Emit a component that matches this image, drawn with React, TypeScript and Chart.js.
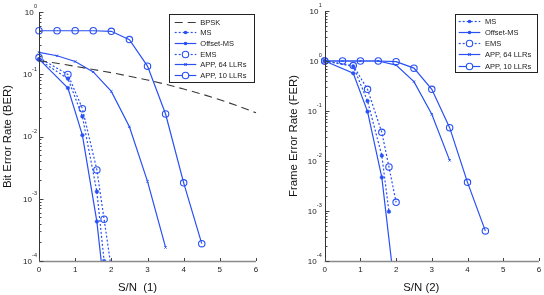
import React, { useEffect, useRef } from 'react';
import { Chart, registerables } from 'chart.js';

Chart.register(...registerables);

const BLUE = 'rgb(40,80,245)';
const FONT = '"Liberation Sans", Arial, Helvetica, sans-serif';

// ---------- Chart 1: BER ----------
const berBpskX = [0, 0.5, 1, 1.5, 2, 2.5, 3, 3.5, 4, 4.5, 5, 5.5, 6];
const berBpskY = [0.165, 0.15, 0.134, 0.119, 0.106, 0.093, 0.081, 0.069, 0.058, 0.048, 0.039, 0.031, 0.024];
const berMsX = [0, 0.8, 1.2, 1.6, 1.8];
const berMsY = [0.17, 0.085, 0.021, 0.0013, 0.0001];
const berOmsX = [0, 0.8, 1.2, 1.6, 1.8];
const berOmsY = [0.175, 0.06, 0.0105, 0.00043, 0.000038];
const berEmsX = [0, 0.8, 1.2, 1.6, 1.8, 2.0];
const berEmsY = [0.185, 0.099, 0.028, 0.0029, 0.00047, 0.000075];
const berApp64X = [0, 0.5, 1, 1.5, 2, 2.5, 3, 3.5];
const berApp64Y = [0.225, 0.198, 0.16, 0.109, 0.053, 0.0143, 0.0019, 0.000165];
const berApp10X = [0, 0.5, 1, 1.5, 2, 2.5, 3, 3.5, 4, 4.5];
const berApp10Y = [0.5, 0.5, 0.5, 0.5, 0.49, 0.36, 0.135, 0.023, 0.0018, 0.00019];

// ---------- Chart 2: FER ----------
const ferMsX = [0, 0.8, 1.2, 1.6, 1.8];
const ferMsY = [1, 0.78, 0.158, 0.0128, 0.00097];
const ferOmsX = [0, 0.8, 1.2, 1.6, 2.0];
const ferOmsY = [1, 0.567, 0.097, 0.0047, 0.000016];
const ferEmsX = [0, 0.8, 1.2, 1.6, 1.8, 2.0];
const ferEmsY = [1, 0.81, 0.271, 0.0374, 0.0076, 0.00149];
const ferApp64X = [0, 0.5, 1, 1.5, 2, 2.5, 3, 3.5];
const ferApp64Y = [1, 1, 1, 1, 0.83, 0.386, 0.0858, 0.0103];
const ferApp10X = [0, 0.5, 1, 1.5, 2, 2.5, 3, 3.5, 4, 4.5];
const ferApp10Y = [1, 1, 1, 1, 0.97, 0.72, 0.271, 0.0464, 0.00374, 0.0004];

// ticks / labels
const xTicks = [0, 1, 2, 3, 4, 5, 6];
const berExps = [0, -1, -2, -3, -4];
const ferExps = [1, 0, -1, -2, -3, -4];
const berLabels = ['BPSK', 'MS', 'Offset-MS', 'EMS', 'APP, 64 LLRs', 'APP, 10 LLRs'];
const ferLabels = ['MS', 'Offset-MS', 'EMS', 'APP, 64 LLRs', 'APP, 10 LLRs'];

type Kind = 'bpsk' | 'ms' | 'oms' | 'ems' | 'app64' | 'app10';

const pts = (xs: number[], ys: number[]) => xs.map((x, i) => ({ x, y: ys[i] }));

function style(kind: Kind) {
  const base: any = { borderWidth: 1.2, tension: 0, clip: { left: 5, right: 5, top: 5, bottom: 1 } };
  switch (kind) {
    case 'bpsk':
      return { ...base, borderWidth: 1.1, borderColor: '#3a3a3a', borderDash: [8, 5], pointRadius: 0 };
    case 'ms':
      return { ...base, borderColor: BLUE, borderDash: [2, 2], pointStyle: 'circle', pointRadius: 1.8, pointBackgroundColor: BLUE, pointBorderColor: BLUE, pointBorderWidth: 0.5 };
    case 'oms':
      return { ...base, borderColor: BLUE, pointStyle: 'circle', pointRadius: 1.8, pointBackgroundColor: BLUE, pointBorderColor: BLUE, pointBorderWidth: 0.5 };
    case 'ems':
      return { ...base, borderColor: BLUE, borderDash: [2, 2], pointStyle: 'circle', pointRadius: 3.2, pointBackgroundColor: 'rgba(255,255,255,0)', pointBorderColor: BLUE, pointBorderWidth: 1.1 };
    case 'app64':
      return { ...base, borderColor: BLUE, pointStyle: 'crossRot', pointRadius: 1.6, pointBorderColor: BLUE, pointBorderWidth: 1 };
    case 'app10':
      return { ...base, borderColor: BLUE, pointStyle: 'circle', pointRadius: 3.2, pointBackgroundColor: 'rgba(255,255,255,0)', pointBorderColor: BLUE, pointBorderWidth: 1.1 };
  }
}

type Cfg = {
  yMax: number;
  exps: number[];
  padding: { left: number; right: number; top: number; bottom: number };
  labelGap: number;
  yTitle: string;
  xTitle: string;
  yTitleX: number;
  xTitleShift: number;
  legend: { x: number; y: number; w: number; h: number; l0: number; l1: number; tx: number; r0: number; dr: number };
  series: { kind: Kind; label: string; xs: number[]; ys: number[] }[];
};

function drawMarker(ctx: CanvasRenderingContext2D, kind: Kind, x: number, y: number) {
  ctx.save();
  ctx.setLineDash([]);
  ctx.strokeStyle = BLUE;
  ctx.fillStyle = BLUE;
  ctx.lineWidth = 1.1;
  if (kind === 'ms' || kind === 'oms') {
    ctx.beginPath(); ctx.arc(x, y, 1.8, 0, Math.PI * 2); ctx.fill();
  } else if (kind === 'ems' || kind === 'app10') {
    ctx.fillStyle = '#fff';
    ctx.beginPath(); ctx.arc(x, y, 3.2, 0, Math.PI * 2); ctx.fill(); ctx.stroke();
  } else if (kind === 'app64') {
    const r = 1.2;
    ctx.beginPath(); ctx.moveTo(x - r, y - r); ctx.lineTo(x + r, y + r); ctx.moveTo(x + r, y - r); ctx.lineTo(x - r, y + r); ctx.stroke();
  }
  ctx.restore();
}

function makeDecor(cfg: Cfg) {
  return {
    id: 'decor',
    afterDraw(chart: any) {
      const ctx: CanvasRenderingContext2D = chart.ctx;
      const xs = chart.scales.x;
      const ys = chart.scales.y;
      const a = chart.chartArea;
      ctx.save();
      // bottom axis
      ctx.strokeStyle = '#8a8a8a';
      ctx.lineWidth = 1.5;
      ctx.beginPath(); ctx.moveTo(a.left, a.bottom + 0.6); ctx.lineTo(a.right, a.bottom + 0.6); ctx.stroke();
      // left axis
      ctx.strokeStyle = '#333';
      ctx.lineWidth = 1;
      const ax = Math.round(a.left) + 0.5;
      ctx.beginPath(); ctx.moveTo(ax, a.top); ctx.lineTo(ax, a.bottom); ctx.stroke();
      // y ticks
      const minE = Math.min(...cfg.exps), maxE = Math.max(...cfg.exps);
      ctx.strokeStyle = '#444';
      for (let e = minE; e <= maxE; e++) {
        for (let m = 1; m <= 9; m++) {
          if (e === maxE && m > 1) break;
          const v = m * Math.pow(10, e);
          const y = Math.round(ys.getPixelForValue(v)) + 0.5;
          const len = m === 1 ? 4 : 2;
          ctx.beginPath(); ctx.moveTo(ax, y); ctx.lineTo(ax + len, y); ctx.stroke();
        }
      }
      // x ticks
      for (const t of xTicks) {
        const x = Math.round(xs.getPixelForValue(t)) + 0.5;
        ctx.beginPath(); ctx.moveTo(x, a.bottom); ctx.lineTo(x, a.bottom - 3); ctx.stroke();
      }
      // x labels
      ctx.fillStyle = '#222';
      ctx.font = `8px ${FONT}`;
      ctx.textAlign = 'center';
      ctx.textBaseline = 'alphabetic';
      for (const t of xTicks) {
        ctx.fillText(String(t), xs.getPixelForValue(t), a.bottom + 10.8);
      }
      // y labels 10^e
      for (const e of cfg.exps) {
        const y = ys.getPixelForValue(Math.pow(10, e));
        const right = a.left - cfg.labelGap;
        ctx.font = `5.5px ${FONT}`;
        ctx.textAlign = 'right';
        const sup = String(e);
        const sw = ctx.measureText(sup).width;
        ctx.fillText(sup, right, y - 3.6);
        ctx.font = `8px ${FONT}`;
        ctx.fillText('10', right - sw - 0.2, y + 2.9);
      }
      // axis titles
      ctx.font = `11.4px ${FONT}`;
      ctx.fillStyle = '#111';
      ctx.textAlign = 'center';
      ctx.fillText(cfg.xTitle, (a.left + a.right) / 2 + cfg.xTitleShift, 291);
      ctx.save();
      ctx.translate(cfg.yTitleX, (a.top + a.bottom) / 2);
      ctx.rotate(-Math.PI / 2);
      ctx.fillText(cfg.yTitle, 0, 0);
      ctx.restore();
      // legend
      const L = cfg.legend;
      ctx.fillStyle = '#fff';
      ctx.fillRect(L.x, L.y, L.w, L.h);
      ctx.strokeStyle = '#222';
      ctx.lineWidth = 1;
      ctx.strokeRect(Math.round(L.x) + 0.5, Math.round(L.y) + 0.5, Math.round(L.w), Math.round(L.h));
      cfg.series.forEach((s, i) => {
        const y = Math.round(L.r0 + i * L.dr) + 0.5;
        const st: any = style(s.kind);
        ctx.save();
        ctx.strokeStyle = st.borderColor;
        ctx.lineWidth = st.borderWidth;
        ctx.setLineDash(st.borderDash || []);
        ctx.beginPath(); ctx.moveTo(L.l0, y); ctx.lineTo(L.l1, y); ctx.stroke();
        ctx.restore();
        drawMarker(ctx, s.kind, (L.l0 + L.l1) / 2, y);
        ctx.fillStyle = '#222';
        ctx.font = `7.5px ${FONT}`;
        ctx.textAlign = 'left';
        ctx.textBaseline = 'middle';
        ctx.fillText(s.label, L.tx, y + 0.3);
      });
      ctx.restore();
    },
  };
}

const berCfg: Cfg = {
  yMax: 1,
  exps: berExps,
  padding: { left: 39, right: 16, top: 12, bottom: 34 },
  labelGap: 2,
  yTitle: 'Bit Error Rate (BER)',
  xTitle: 'S/N  (1)',
  yTitleX: 10.5,
  xTitleShift: -10,
  legend: { x: 169, y: 14, w: 85, h: 68, l0: 174.7, l1: 196.3, tx: 200.3, r0: 21.8, dr: 10.66 },
  series: [
    { kind: 'bpsk', label: berLabels[0], xs: berBpskX, ys: berBpskY },
    { kind: 'ms', label: berLabels[1], xs: berMsX, ys: berMsY },
    { kind: 'oms', label: berLabels[2], xs: berOmsX, ys: berOmsY },
    { kind: 'ems', label: berLabels[3], xs: berEmsX, ys: berEmsY },
    { kind: 'app64', label: berLabels[4], xs: berApp64X, ys: berApp64Y },
    { kind: 'app10', label: berLabels[5], xs: berApp10X, ys: berApp10Y },
  ],
};

const ferCfg: Cfg = {
  yMax: 10,
  exps: ferExps,
  padding: { left: 52.7, right: 3.7, top: 11, bottom: 34 },
  labelGap: 3,
  yTitle: 'Frame Error Rate (FER)',
  xTitle: 'S/N (2)',
  yTitleX: 25,
  xTitleShift: -10.5,
  legend: { x: 183, y: 14, w: 82, h: 58, l0: 186.7, l1: 208.3, tx: 213, r0: 20.7, dr: 11.2 },
  series: [
    { kind: 'ms', label: ferLabels[0], xs: ferMsX, ys: ferMsY },
    { kind: 'oms', label: ferLabels[1], xs: ferOmsX, ys: ferOmsY },
    { kind: 'ems', label: ferLabels[2], xs: ferEmsX, ys: ferEmsY },
    { kind: 'app64', label: ferLabels[3], xs: ferApp64X, ys: ferApp64Y },
    { kind: 'app10', label: ferLabels[4], xs: ferApp10X, ys: ferApp10Y },
  ],
};

function ErrChart({ cfg }: { cfg: Cfg }) {
  const ref = useRef<HTMLCanvasElement | null>(null);
  useEffect(() => {
    if (!ref.current) return;
    const chart = new Chart(ref.current, {
      type: 'line',
      data: {
        datasets: cfg.series.map((s) => ({ label: s.label, data: pts(s.xs, s.ys), ...(style(s.kind) as any) })),
      },
      options: {
        animation: false,
        responsive: false,
        devicePixelRatio: 1,
        layout: { padding: cfg.padding },
        scales: {
          x: { type: 'linear', min: 0, max: 6, display: false },
          y: { type: 'logarithmic', min: 1e-4, max: cfg.yMax, display: false },
        },
        plugins: { legend: { display: false }, tooltip: { enabled: false } },
      },
      plugins: [makeDecor(cfg)],
    } as any);
    return () => chart.destroy();
  }, [cfg]);
  return <canvas ref={ref} width={272} height={295} style={{ display: 'block', width: 272, height: 295 }} />;
}

export default function App() {
  return (
    <div style={{ position: 'absolute', left: 0, top: 0, width: 544, height: 295, display: 'flex', background: '#fff' }}>
      <ErrChart cfg={berCfg} />
      <ErrChart cfg={ferCfg} />
    </div>
  );
}
